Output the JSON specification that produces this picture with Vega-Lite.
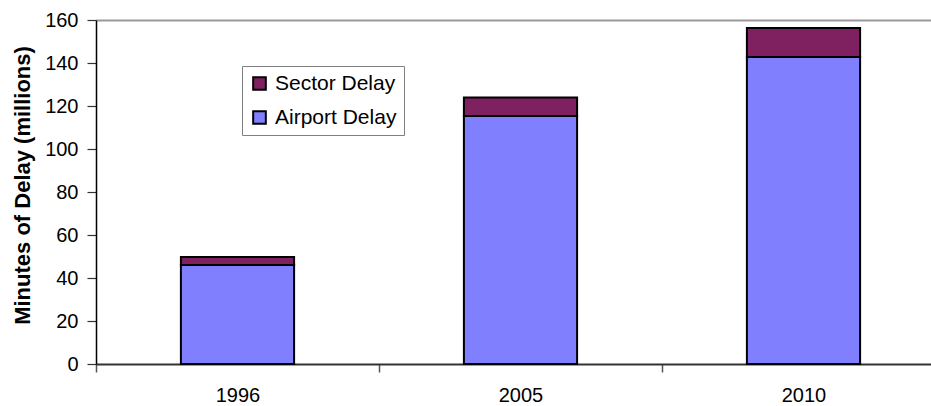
{
  "$schema": "https://vega.github.io/schema/vega-lite/v6.json",
  "autosize": {"type": "none"},
  "padding": {"left": 96, "top": 20, "right": 0, "bottom": 42},
  "width": 849,
  "height": 344,
  "background": "white",
  "config": {
    "view": {"stroke": null},
    "font": "Liberation Sans"
  },
  "data": {
    "values": [
      {"year": "1996", "type": "Airport Delay", "value": 46.0},
      {"year": "1996", "type": "Sector Delay", "value": 3.8},
      {"year": "2005", "type": "Airport Delay", "value": 115.3},
      {"year": "2005", "type": "Sector Delay", "value": 8.7},
      {"year": "2010", "type": "Airport Delay", "value": 142.8},
      {"year": "2010", "type": "Sector Delay", "value": 13.5}
    ]
  },
  "mark": {"type": "bar", "stroke": "black", "strokeWidth": 2, "width": {"band": 0.4}},
  "encoding": {
    "x": {
      "field": "year",
      "type": "nominal",
      "scale": {"paddingInner": 0, "paddingOuter": 0},
      "axis": {
        "title": null,
        "labelAngle": 0,
        "labelFont": "Liberation Sans",
        "labelFontSize": 20,
        "labelColor": "black",
        "labelPadding": 13,
        "tickBand": "extent",
        "tickSize": 8,
        "tickColor": "#555555",
        "tickWidth": 1.5,
        "domainColor": "#333333",
        "domainWidth": 2
      }
    },
    "y": {
      "field": "value",
      "type": "quantitative",
      "stack": "zero",
      "scale": {"domain": [0, 160], "nice": false},
      "axis": {
        "title": "Minutes of Delay (millions)",
        "titleFont": "Liberation Sans",
        "titleFontSize": 22,
        "titleFontWeight": "bold",
        "titleColor": "black",
        "titleX": -74,
        "titleY": 165,
        "titleAlign": "center",
        "titleBaseline": "middle",
        "titleAngle": -90,
        "values": [0, 20, 40, 60, 80, 100, 120, 140, 160],
        "labelFont": "Liberation Sans",
        "labelFontSize": 20,
        "labelColor": "black",
        "labelPadding": 9,
        "tickSize": 9,
        "tickColor": "#333333",
        "tickWidth": 1.2,
        "domainColor": "black",
        "domainWidth": 1.5,
        "grid": true,
        "gridColor": {"condition": {"test": "datum.value === 160", "value": "#999999"}, "value": "transparent"},
        "gridWidth": 2
      }
    },
    "color": {
      "field": "type",
      "type": "nominal",
      "scale": {"domain": ["Sector Delay", "Airport Delay"], "range": ["#7f2060", "#8080ff"]},
      "legend": {
        "title": null,
        "orient": "none",
        "legendX": 146,
        "legendY": 46,
        "strokeColor": "#808080",
        "padding": 7,
        "symbolType": "square",
        "symbolSize": 160,
        "symbolStrokeColor": "black",
        "symbolStrokeWidth": 2,
        "symbolOpacity": 1,
        "labelFont": "Liberation Sans",
        "labelFontSize": 21,
        "labelColor": "black",
        "labelOffset": 5,
        "rowPadding": 12
      }
    },
    "order": {"field": "type", "sort": "ascending"}
  }
}
